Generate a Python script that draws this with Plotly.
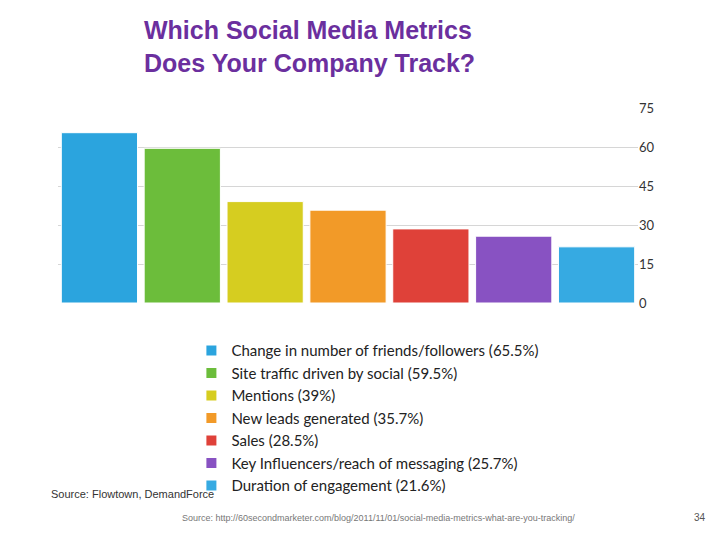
import plotly.graph_objects as go

# metrics and the share of companies tracking them
metrics = ["Change in number of friends/followers", "Site traffic driven by social",
           "Mentions", "New leads generated", "Sales",
           "Key Influencers/reach of messaging", "Duration of engagement"]
values = [65.5, 59.5, 39, 35.7, 28.5, 25.7, 21.6]
labels = ["Change in number of friends/followers (65.5%)", "Site traffic driven by social (59.5%)",
          "Mentions (39%)", "New leads generated (35.7%)", "Sales (28.5%)",
          "Key Influencers/reach of messaging (25.7%)", "Duration of engagement (21.6%)"]
colors = ["#2ba4de", "#6cbd3b", "#d6cd20", "#f29a28", "#df4139", "#8852c2", "#36aae2"]
y_ticks = [0, 15, 30, 45, 60, 75]

fig = go.Figure()
for m, v, lab, c in zip(metrics, values, labels, colors):
    fig.add_trace(go.Bar(x=[m], y=[v], name=lab, marker=dict(color=c, line=dict(color="white", width=1)),
                         hoverinfo="y"))

fig.update_layout(
    width=720, height=540, barmode="relative", bargap=0.08,
    plot_bgcolor="white", paper_bgcolor="white",
    margin=dict(l=50, r=90, t=100, b=245),
    font=dict(family="Lato, sans-serif", color="#222"),
    xaxis=dict(showticklabels=False, showgrid=False, zeroline=False),
    yaxis=dict(side="right", range=[0, 75], tickvals=y_ticks, showgrid=True,
               gridcolor="#d6d6d6", zeroline=False, tickfont=dict(size=13, color="#333")),
    legend=dict(x=0.23, y=-0.16, xanchor="left", yanchor="top", font=dict(size=15),
                traceorder="normal", itemsizing="constant", tracegroupgap=0),
    showlegend=True,
)
fig.add_annotation(text="<b>Which Social Media Metrics<br>Does Your Company Track?</b>",
                   xref="paper", yref="paper", x=0.145, y=1.48, xanchor="left", yanchor="top",
                   align="left", showarrow=False,
                   font=dict(family="Arial, sans-serif", size=25, color="#6b2f9e"))
fig.add_annotation(text="Source: Flowtown, DemandForce", xref="paper", yref="paper",
                   x=-0.015, y=-1.02, xanchor="left", showarrow=False,
                   font=dict(family="Arial", size=11, color="#333"))
fig.add_annotation(text="Source: http://60secondmarketer.com/blog/2011/11/01/social-media-metrics-what-are-you-tracking/",
                   xref="paper", yref="paper", x=0.21, y=-1.14, xanchor="left", showarrow=False,
                   font=dict(family="Arial", size=9, color="#777"))
fig.add_annotation(text="34", xref="paper", yref="paper", x=1.12, y=-1.14, xanchor="right",
                   showarrow=False, font=dict(family="Arial", size=10, color="#555"))
fig.write_html("out.html")
